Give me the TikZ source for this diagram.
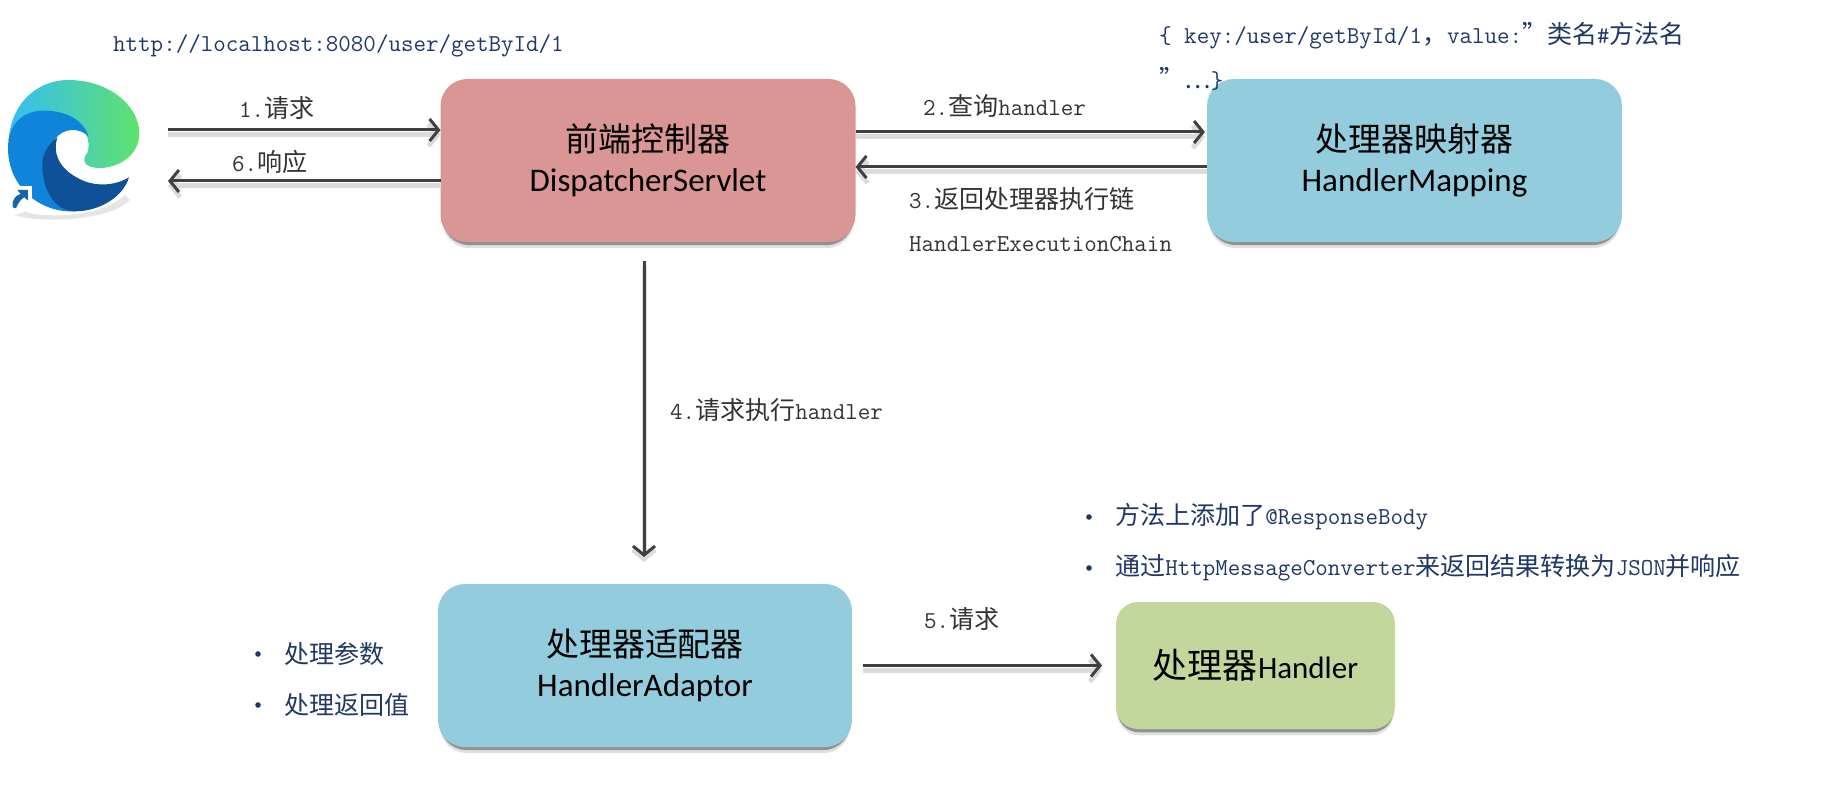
\documentclass[tikz,border=0pt]{standalone}
\usepackage{fontspec}
\usetikzlibrary{arrows.meta,shadows}
\newfontfamily\cjk[Scale=1.03]{Noto Sans CJK SC}
\newfontfamily\boxfont{Carlito}
\newcommand{\zh}[1]{{\cjk #1}}
\definecolor{pinkbox}{HTML}{D99694}
\definecolor{bluebox}{HTML}{93CDDD}
\definecolor{greenbox}{HTML}{C3D69B}
\definecolor{navy}{HTML}{1F3864}
\definecolor{arrowgray}{HTML}{404040}
\definecolor{edgecyan}{HTML}{35BDF6}
\definecolor{edgeteal}{HTML}{2AC4C6}
\definecolor{edgegreen}{HTML}{5FE26C}
\definecolor{edgeblue}{HTML}{0F84DA}
\definecolor{edgedark}{HTML}{0E5198}
\tikzset{
  box/.style={rounded corners=27pt,inner sep=0pt,outer sep=0pt,align=center,
    font=\boxfont\fontsize{33}{40}\selectfont,
    drop shadow={shadow xshift=0pt,shadow yshift=-7pt,shadow scale=.99,fill=black,opacity=.12},
    drop shadow={shadow xshift=0pt,shadow yshift=-4pt,shadow scale=.99,fill=black,opacity=.35}},
  flow/.style={-{Straight Barb[length=9pt,width=22pt]},line width=3pt,draw=arrowgray,
    preaction={draw=black!14,line width=5pt,transform canvas={yshift=-5pt}}},
  step label/.style={anchor=west,inner sep=0pt,text=black!80,font=\ttfamily\fontsize{24.3}{25}\selectfont},
  note/.style={anchor=west,inner sep=0pt,text=navy,font=\ttfamily\fontsize{24.3}{25}\selectfont}
}
\begin{document}
\begin{tikzpicture}[x=1pt,y=-1pt]
\useasboundingbox (0,0) rectangle (1825,791);

% Draw browser icon
\node[minimum width=168pt,minimum height=140pt,inner sep=0pt,outer sep=0pt] (browser) at (84,147) {};
\begin{scope}[shift={(0,70)},x=0.3333pt,y=-0.3333pt]
   \fill[black,opacity=.1] (75,425) .. controls (130,445) and (300,445) .. (375,375) -- (390,390)
      .. controls (330,455) and (110,460) .. (45,435) -- cycle;
   \path[left color=edgecyan,middle color=edgeteal,right color=edgegreen] (26,210) .. controls (35,90) and (120,30) .. (205,30)
      .. controls (330,30) and (418,110) .. (418,190) .. controls (418,260) and (350,294) .. (300,294)
      .. controls (265,294) and (245,280) .. (256,258) .. controls (275,240) and (270,170) .. (215,160)
      .. controls (150,140) and (60,140) .. (26,210) -- cycle;
   \fill[edgeblue] (24,235) .. controls (24,160) and (70,122) .. (130,122)
      .. controls (200,122) and (250,150) .. (266,200) .. controls (240,172) and (190,172) .. (165,208)
      -- (135,260) .. controls (120,320) and (150,400) .. (225,424) .. controls (120,430) and (24,350) .. (24,235) -- cycle;
   \fill[edgedark] (172,203) .. controls (140,225) and (125,260) .. (127,290)
      .. controls (130,370) and (170,424) .. (225,424) .. controls (300,424) and (370,380) .. (387,322)
      .. controls (340,350) and (280,350) .. (235,325) .. controls (185,300) and (155,255) .. (172,203) -- cycle;
   \fill[white] (30,347) -- (95,347) -- (95,418) -- (30,418) -- cycle;
   \fill[edgeblue!60!navy] (38,412) .. controls (35,385) and (50,375) .. (62,372) -- (52,360) -- (84,360) -- (84,392)
      -- (73,382) .. controls (62,388) and (55,398) .. (48,415) -- cycle;
\end{scope}

% Draw boxes
\node[box,fill=pinkbox,minimum width=415pt,minimum height=163pt] (dispatcher) at (648,160.5)
   {\zh{\fontsize{32}{40}\selectfont 前端控制器}\\DispatcherServlet};
\node[box,fill=bluebox,minimum width=415pt,minimum height=163pt] (mapping) at (1414.5,160.5)
   {\zh{\fontsize{32}{40}\selectfont 处理器映射器}\\HandlerMapping};
\node[box,fill=bluebox,minimum width=414pt,minimum height=163pt] (adaptor) at (645,665.5)
   {\zh{\fontsize{32}{40}\selectfont 处理器适配器}\\HandlerAdaptor};
\node[box,fill=greenbox,rounded corners=22pt,font=\boxfont\fontsize{31}{40}\selectfont,minimum width=279pt,minimum height=127pt] (handler) at (1255.5,665.5)
   {\zh{\fontsize{34}{40}\selectfont 处理器}Handler};

% Levels of the arrows
\coordinate (req) at (300,130);
\coordinate (resp) at (300,181);
\coordinate (query) at (1000,132);
\coordinate (chain) at (1000,167);
\coordinate (exec) at (644,400);

% Draw arrows
\draw[flow] (browser.east |- req) -- (dispatcher.west |- req);
\draw[flow] (dispatcher.west |- resp) -- (browser.east |- resp);
\draw[flow] (dispatcher.east |- query) -- ([xshift=-2pt]mapping.west |- query);
\draw[flow] (mapping.west |- chain) -- (dispatcher.east |- chain);
\draw[flow] ([yshift=-19pt]exec |- dispatcher.south) -- ([yshift=27pt]exec |- adaptor.north);
\draw[flow] ([xshift=11pt]adaptor.east) -- ([xshift=-14pt]handler.west);

% Label the arrows
\node[step label] (l1) at (239,108) {1.\zh{请求}};
\node[step label] (l6) at (232,162) {6.\zh{响应}};
\node[step label] (l2) at (923,106) {2.\zh{查询}handler};
\node[step label] (l3) at (909,199) {3.\zh{返回处理器执行链}};
\node[step label] (l3b) at (909,244) {HandlerExecutionChain};
\node[step label] (l4) at (670,410) {4.\zh{请求执行}handler};
\node[step label] (l5) at (924,619) {5.\zh{请求}};

% Texts in blue
\node[note] (url) at (113,46) {http://localhost:8080/user/getById/1};
\node[note] (key) at (1159,36) {\{ key:/user/getById/1\zh{，}value:\zh{”类名}\#\zh{方法名}};
\node[note] (keyb) at (1159,79) {\zh{”…}\}};

% Bullet lists
\foreach \name/\x/\y/\txt in {
   params/284/654/{\zh{处理参数}},
   result/284/705/{\zh{处理返回值}},
   body/1115/517/{\zh{方法上添加了}@ResponseBody},
   conv/1115/568/{\zh{通过}HttpMessageConverter\zh{来返回结果转换为}JSON\zh{并响应}}} {
   \node[note] (\name) at (\x,\y) {\txt};
   \fill[navy] ([xshift=-26pt]\name.west) circle (2.8);
}
\end{tikzpicture}
\end{document}
